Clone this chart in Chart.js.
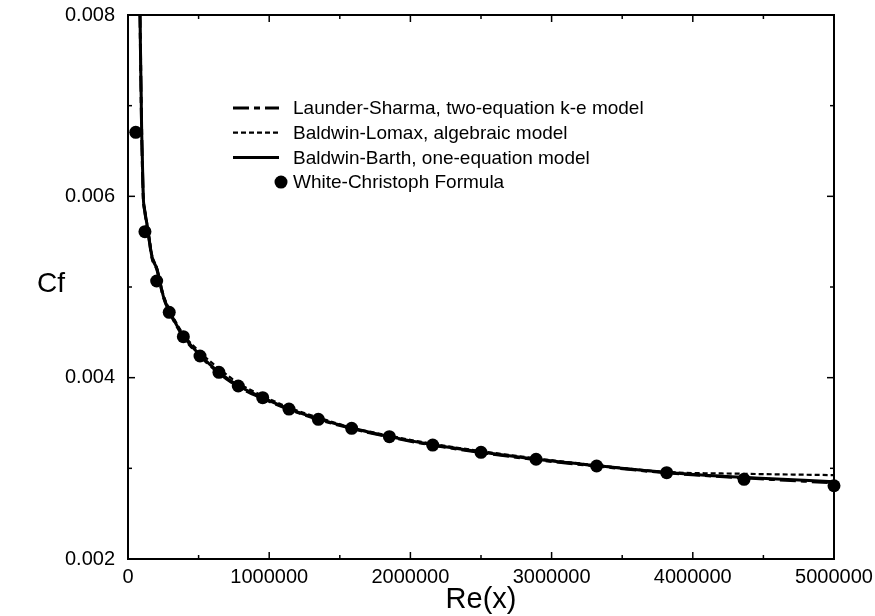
<!DOCTYPE html>
<html><head><meta charset="utf-8">
<script src="https://cdn.jsdelivr.net/npm/chart.js@4"></script>
<style>html,body{margin:0;padding:0;background:#fff}#wrap{width:875px;height:616px;position:relative}</style>
</head><body><div id="wrap"><canvas id="c" width="875" height="616"></canvas></div>
<script>
// ---- data ----
const modelRe = [70000, 85000, 97000, 108000, 118000, 130000, 145000, 170000, 205000, 250000, 292000, 392000, 510000, 644000, 781000, 954000, 1140000, 1348000, 1584000, 1851000, 2158000, 2500000, 2890000, 3319000, 3815000, 4363000, 5000000];
const launderSharma = [0.0098, 0.0080, 0.0067, 0.0060, 0.00584, 0.00572, 0.00557, 0.00532, 0.00519, 0.00489, 0.00473, 0.00445, 0.00424, 0.00405, 0.00390, 0.00377, 0.00365, 0.00354, 0.00344, 0.003345, 0.003255, 0.003175, 0.003095, 0.003025, 0.00295, 0.002895, 0.00284];
const baldwinLomax = [0.0098, 0.0080, 0.0067, 0.0060, 0.00587, 0.00576, 0.00561, 0.00536, 0.00521, 0.00492, 0.00476, 0.00448, 0.00428, 0.00410, 0.00394, 0.00380, 0.00367, 0.00356, 0.00345, 0.00336, 0.00327, 0.00319, 0.00311, 0.003035, 0.00296, 0.00294, 0.002925];
const baldwinBarth = [0.0098, 0.0080, 0.0067, 0.0060, 0.00585, 0.00573, 0.00558, 0.00533, 0.00520, 0.00490, 0.00474, 0.00446, 0.00425, 0.00406, 0.00391, 0.00378, 0.003655, 0.003545, 0.003445, 0.00335, 0.00326, 0.00318, 0.00310, 0.00303, 0.002955, 0.00290, 0.002852];
const wcRe = [55000, 120000, 203000, 292000, 392000, 510000, 644000, 781000, 954000, 1140000, 1348000, 1584000, 1851000, 2158000, 2500000, 2890000, 3319000, 3815000, 4363000, 5000000];
const wcCf = [0.006706, 0.00561, 0.005066, 0.004721, 0.004452, 0.004239, 0.004059, 0.003908, 0.003779, 0.003654, 0.003541, 0.003441, 0.003349, 0.003257, 0.003177, 0.0031, 0.003026, 0.002952, 0.002879, 0.002808];
const seriesNames = ['Launder-Sharma, two-equation k-e model', 'Baldwin-Lomax, algebraic model', 'Baldwin-Barth, one-equation model', 'White-Christoph Formula'];
const xTickLabels = ['0', '1000000', '2000000', '3000000', '4000000', '5000000'];
const yTickLabels = ['0.002', '0.004', '0.006', '0.008'];
const xTitle = 'Re(x)';
const yTitle = 'Cf';

const FONT = "'Liberation Sans', Arial, Helvetica, sans-serif";
Chart.defaults.font.family = FONT;
Chart.defaults.color = '#000';

const pts = (xs, ys) => xs.map((v, i) => ({x: v, y: ys[i]}));

const decor = {
  id: 'decor',
  afterDraw(chart) {
    const {ctx, chartArea: a, scales: {x, y}} = chart;
    ctx.save();
    ctx.strokeStyle = '#000';
    ctx.lineWidth = 2;
    ctx.setLineDash([]);
    ctx.strokeRect(a.left, a.top, a.right - a.left, a.bottom - a.top);
    ctx.lineWidth = 1.5;
    const seg = (x1, y1, x2, y2) => { ctx.beginPath(); ctx.moveTo(x1, y1); ctx.lineTo(x2, y2); ctx.stroke(); };
    x.ticks.forEach(t => {
      const px = x.getPixelForValue(t.value);
      const L = t.label ? 7 : 4;
      seg(px, a.bottom, px, a.bottom - L);
      seg(px, a.top, px, a.top + L);
    });
    y.ticks.forEach(t => {
      const py = y.getPixelForValue(t.value);
      const L = t.label ? 7 : 4;
      seg(a.left, py, a.left + L, py);
      seg(a.right, py, a.right - L, py);
    });
    // legend
    const sx0 = 233, sx1 = 279, tx = 293, ry0 = 108, rstep = 24.7;
    ctx.font = '19px ' + FONT;
    ctx.textAlign = 'left';
    ctx.textBaseline = 'middle';
    ctx.fillStyle = '#000';
    chart.data.datasets.forEach((ds, i) => {
      const ry = ry0 + i * rstep;
      if (ds.showLine === false) {
        ctx.beginPath();
        ctx.arc(sx1 + 2, ry, 6.5, 0, Math.PI * 2);
        ctx.fill();
      } else {
        ctx.lineWidth = ds.borderWidth;
        ctx.setLineDash(ds.borderDash || []);
        seg(sx0, ry, sx1, ry);
        ctx.setLineDash([]);
      }
      ctx.fillText(ds.label, tx, ry + 1);
    });
    // axis titles
    ctx.textBaseline = 'alphabetic';
    ctx.textAlign = 'center';
    ctx.font = '29px ' + FONT;
    ctx.fillText(xTitle, (a.left + a.right) / 2, 608);
    ctx.font = '28px ' + FONT;
    ctx.fillText(yTitle, 51, 292);
    ctx.restore();
  }
};

new Chart(document.getElementById('c'), {
  type: 'scatter',
  data: {
    datasets: [
      {label: seriesNames[0], data: pts(modelRe, launderSharma), showLine: true, borderColor: '#000', borderWidth: 3, borderDash: [16, 5, 6, 5], pointRadius: 0, cubicInterpolationMode: 'monotone'},
      {label: seriesNames[1], data: pts(modelRe, baldwinLomax), showLine: true, borderColor: '#000', borderWidth: 2.2, borderDash: [5, 3], pointRadius: 0, cubicInterpolationMode: 'monotone'},
      {label: seriesNames[2], data: pts(modelRe, baldwinBarth), showLine: true, borderColor: '#000', borderWidth: 3, pointRadius: 0, cubicInterpolationMode: 'monotone'},
      {label: seriesNames[3], data: pts(wcRe, wcCf), showLine: false, clip: 10, pointRadius: 6.5, pointBackgroundColor: '#000', pointBorderColor: '#000', pointBorderWidth: 0}
    ]
  },
  options: {
    responsive: false,
    animation: false,
    devicePixelRatio: 1,
    layout: {padding: {top: 15, right: 41, left: 0, bottom: 0}},
    plugins: {legend: {display: false}, tooltip: {enabled: false}},
    scales: {
      x: {
        type: 'linear', min: 0, max: 5000000,
        grid: {display: false, drawTicks: false},
        border: {display: false},
        afterFit(s) { s.height = 57; s.paddingLeft = 0; s.paddingRight = 0; },
        afterBuildTicks(s) { s.ticks = []; for (let v = 0; v <= 5000000; v += 500000) s.ticks.push({value: v}); },
        ticks: {
          autoSkip: false, maxRotation: 0, padding: 6,
          font: {size: 20},
          callback: (v) => { const i = xTickLabels.indexOf(String(v)); return i >= 0 ? xTickLabels[i] : ''; }
        }
      },
      y: {
        type: 'linear', min: 0.002, max: 0.008,
        grid: {display: false, drawTicks: false},
        border: {display: false},
        afterFit(s) { s.width = 128; s.paddingTop = 0; s.paddingBottom = 0; },
        afterBuildTicks(s) { s.ticks = []; for (let k = 2; k <= 8; k++) s.ticks.push({value: k / 1000}); },
        ticks: {
          autoSkip: false, padding: 13,
          font: {size: 20},
          callback: (v) => { const t = Number(v).toFixed(3); return yTickLabels.includes(t) ? t : ''; }
        }
      }
    }
  },
  plugins: [decor]
});
</script>
</body></html>
